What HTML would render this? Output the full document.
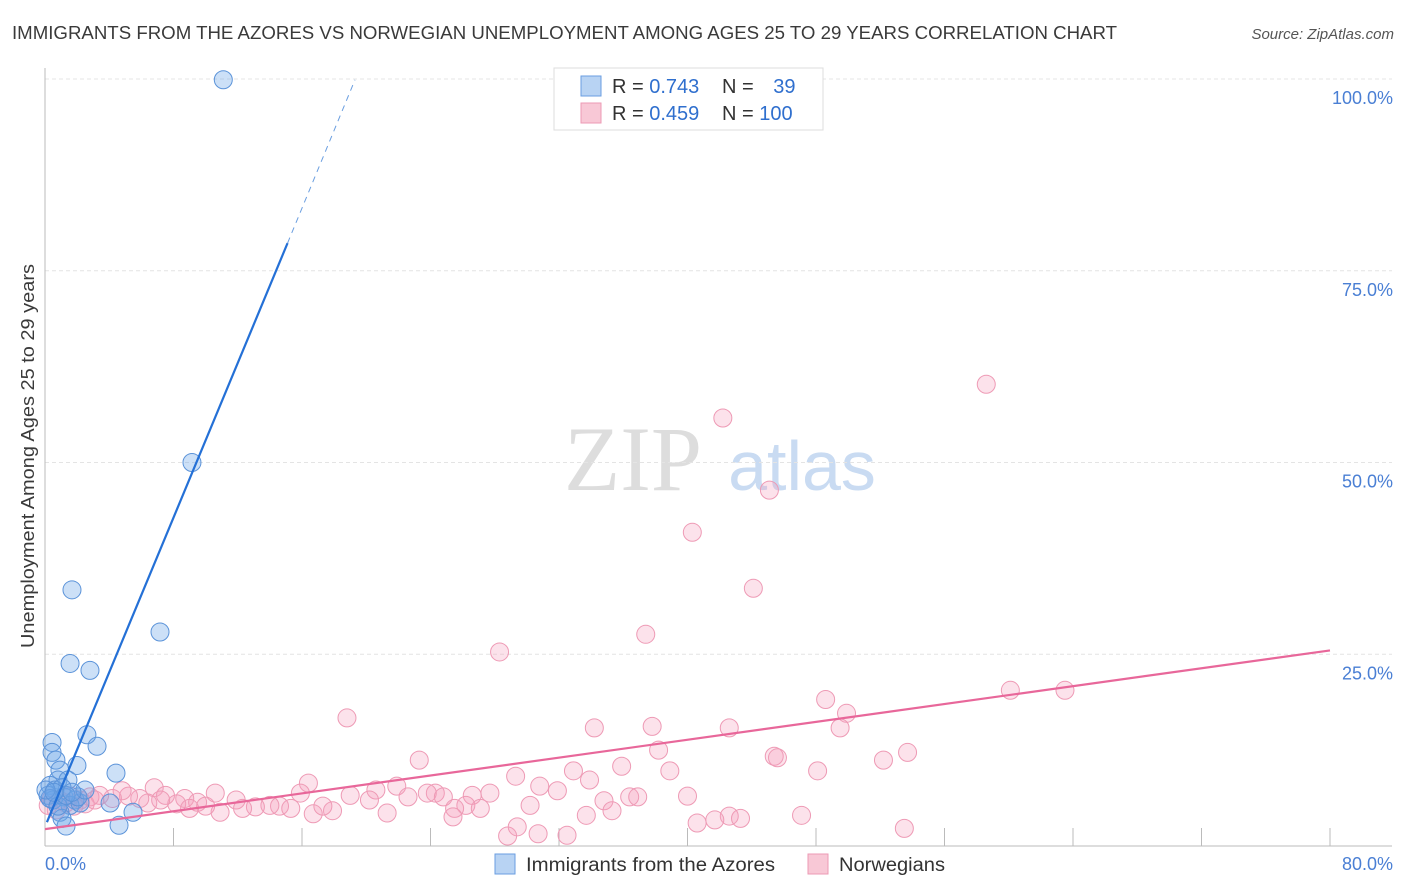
<!DOCTYPE html>
<html><head><meta charset="utf-8"><style>
body{margin:0;background:#fff;font-family:"Liberation Sans",sans-serif}
svg{display:block}
</style></head><body>
<svg id="chart" width="1406" height="892" viewBox="0 0 1406 892" xmlns="http://www.w3.org/2000/svg" font-family="Liberation Sans, sans-serif">
<text x="12" y="39" font-size="18" fill="#3a3a3a" textLength="1105" lengthAdjust="spacingAndGlyphs">IMMIGRANTS FROM THE AZORES VS NORWEGIAN UNEMPLOYMENT AMONG AGES 25 TO 29 YEARS CORRELATION CHART</text>
<text x="1394" y="39" font-size="15" fill="#555" font-style="italic" text-anchor="end">Source: ZipAtlas.com</text>
<g>
<text x="633" y="490" font-size="92" fill="#ddd" font-family="Liberation Serif, serif" text-anchor="middle">ZIP</text>
<text x="802" y="490" font-size="70" fill="#c9dbf2" text-anchor="middle">atlas</text>
</g>
<g id="grid"></g>
<g id="axes"></g>
<g id="pts"></g>
<g id="lines"></g>
<text transform="translate(34,456) rotate(-90)" font-size="18" fill="#3a3a3a" text-anchor="middle" textLength="384" lengthAdjust="spacingAndGlyphs">Unemployment Among Ages 25 to 29 years</text>
<g>
<rect x="554" y="68" width="269" height="62" fill="#fff" stroke="#ddd"/>
<rect x="581" y="76" width="20" height="20" fill="#b8d3f3" stroke="#6a9ee0"/>
<rect x="581" y="103" width="20" height="20" fill="#f8c8d6" stroke="#ec9ab4"/>
<text x="612" y="93" font-size="20" fill="#333">R = <tspan fill="#2f6fce">0.743</tspan></text>
<text x="722" y="93" font-size="20" fill="#333">N = <tspan fill="#2f6fce" dx="14">39</tspan></text>
<text x="612" y="120" font-size="20" fill="#333">R = <tspan fill="#2f6fce">0.459</tspan></text>
<text x="722" y="120" font-size="20" fill="#333">N = <tspan fill="#2f6fce">100</tspan></text>
</g>
<g>
<rect x="495" y="854" width="20" height="20" fill="#b8d3f3" stroke="#6a9ee0"/>
<text x="526" y="871" font-size="19" fill="#333" textLength="249" lengthAdjust="spacingAndGlyphs">Immigrants from the Azores</text>
<rect x="808" y="854" width="20" height="20" fill="#f8c8d6" stroke="#ec9ab4"/>
<text x="839" y="871" font-size="19" fill="#333" textLength="106" lengthAdjust="spacingAndGlyphs">Norwegians</text>
</g>
</svg>
<script>
const yTicks=[25,50,75,100];
const yTickLabels=["25.0%","50.0%","75.0%","100.0%"];
const xTicks=[0,8,16,24,32,40,48,56,64,72,80];
const xTickLabels=["0.0%","80.0%"];
const blueX=[11.1,9.15,1.68,7.16,1.56,2.8,2.61,3.24,0.44,0.44,0.68,1.99,4.42,0.93,0.81,1.43,0.31,0.62,1.06,0.19,0.5,1.18,1.87,1.56,2.18,4.05,2.05,0.31,0.93,1.06,1.31,4.61,5.48,0.81,1.31,2.49,0.06,1.68,0.56];
const blueY=[99.9,50.0,33.4,27.9,23.8,22.9,14.5,13.0,13.5,12.2,11.2,10.5,9.5,9.9,8.6,8.6,7.9,7.3,7.6,6.6,6.0,6.4,6.0,5.3,5.6,5.6,6.4,6.2,4.4,3.6,2.6,2.7,4.4,5.2,6.6,7.3,7.3,7.0,7.0];
const pinkX=[58.6,42.2,45.1,40.3,44.1,37.4,28.3,48.6,60.1,63.5,49.9,18.8,34.2,37.8,42.6,49.5,53.7,38.2,45.4,45.6,52.2,23.3,35.9,32.9,38.9,48.1,29.3,16.4,33.9,6.8,30.8,21.9,20.6,40.0,19.0,34.8,36.4,36.9,31.9,22.6,24.3,23.8,26.6,27.7,24.8,30.2,26.2,27.1,25.5,25.4,35.3,42.6,43.3,40.6,41.7,47.1,53.5,28.8,30.7,32.5,29.4,33.7,21.3,16.7,17.9,17.3,14.6,14.0,13.1,11.9,12.3,10.9,9.5,10.0,8.7,8.2,7.5,7.2,6.4,5.9,5.2,4.8,4.2,3.4,2.8,2.2,1.6,0.9,0.4,0.2,0.7,1.3,1.8,2.5,3.1,10.6,9.0,15.9,20.2,15.3];
const pinkY=[60.2,55.8,46.4,40.9,33.6,27.6,25.3,19.1,20.3,20.3,17.3,16.7,15.4,15.6,15.4,15.4,12.2,12.5,11.7,11.5,11.2,11.2,10.4,9.8,9.8,9.8,9.1,8.2,8.6,7.6,7.8,7.8,7.3,6.5,6.6,5.9,6.4,6.4,7.2,6.4,6.9,6.9,6.6,6.9,6.4,5.3,5.3,4.9,4.9,3.8,4.6,3.9,3.6,3.0,3.4,4.0,2.3,1.3,1.6,1.4,2.5,4.0,4.3,4.2,4.6,5.2,5.2,5.3,5.1,6.0,4.9,4.4,5.7,5.2,6.2,5.5,6.6,6.0,5.6,6.2,6.5,7.2,6.2,6.6,6.4,6.0,6.5,6.0,6.2,5.3,4.7,5.6,5.2,5.5,6.0,6.9,4.9,6.9,6.0,4.9];
const blueTrend=[0.12,3.1,15.1,78.6,19.3,99.9];
const pinkTrend=[0,2.2,80,25.5];
const NS="http://www.w3.org/2000/svg";
const X=v=>45+v/80*1285, Y=v=>846-v/100*767;
function mk(tag,attrs,parent){const e=document.createElementNS(NS,tag);for(const k in attrs)e.setAttribute(k,attrs[k]);parent.appendChild(e);return e;}
const grid=document.getElementById('grid'),axes=document.getElementById('axes'),pts=document.getElementById('pts'),lines=document.getElementById('lines');
yTicks.forEach((t,i)=>{
 const l=mk('line',{x1:45,x2:1392,y1:Y(t),y2:Y(t),stroke:'#e4e4e4','stroke-dasharray':'4,3'},grid);
 
 
 const tx=mk('text',{x:1393,y:Y(t)+25,'font-size':18,fill:'#4a7fd4','text-anchor':'end'},axes);
 tx.textContent=yTickLabels[i];
 
 
});
const ax=mk('line',{x1:45,x2:1392,y1:846,y2:846,stroke:'#bbb'},axes);


const ay=mk('line',{x1:45,x2:45,y1:68,y2:846,stroke:'#bbb'},axes);


xTicks.forEach(t=>{
 const l=mk('line',{x1:X(t),x2:X(t),y1:828,y2:846,stroke:'#bbb'},axes);
 
 
});
const xl0=mk('text',{x:45,y:870,'font-size':18,fill:'#4a7fd4'},axes);xl0.textContent=xTickLabels[0];


const xl1=mk('text',{x:1393,y:870,'font-size':18,fill:'#4a7fd4','text-anchor':'end'},axes);xl1.textContent=xTickLabels[1];


pinkX.forEach((x,i)=>{
 const c=mk('circle',{cx:X(x),cy:Y(pinkY[i]),r:9,fill:'rgba(244,160,188,0.3)',stroke:'#ee9ab5','stroke-width':1},pts);
 
 
});
blueX.forEach((x,i)=>{
 const c=mk('circle',{cx:X(x),cy:Y(blueY[i]),r:9,fill:'rgba(110,165,232,0.35)',stroke:'#5b93d9','stroke-width':1},pts);
 
 
});
const bl=mk('line',{x1:X(blueTrend[0]),y1:Y(blueTrend[1]),x2:X(blueTrend[2]),y2:Y(blueTrend[3]),stroke:'#2470d6','stroke-width':2.2},lines);


const bd=mk('line',{x1:X(blueTrend[2]),y1:Y(blueTrend[3]),x2:X(blueTrend[4]),y2:Y(blueTrend[5]),stroke:'#6a9ee0','stroke-width':1,'stroke-dasharray':'6,5'},lines);


const pl=mk('line',{x1:X(pinkTrend[0]),y1:Y(pinkTrend[1]),x2:X(pinkTrend[2]),y2:Y(pinkTrend[3]),stroke:'#e8679a','stroke-width':2.2},lines);


</script>
</body></html>
